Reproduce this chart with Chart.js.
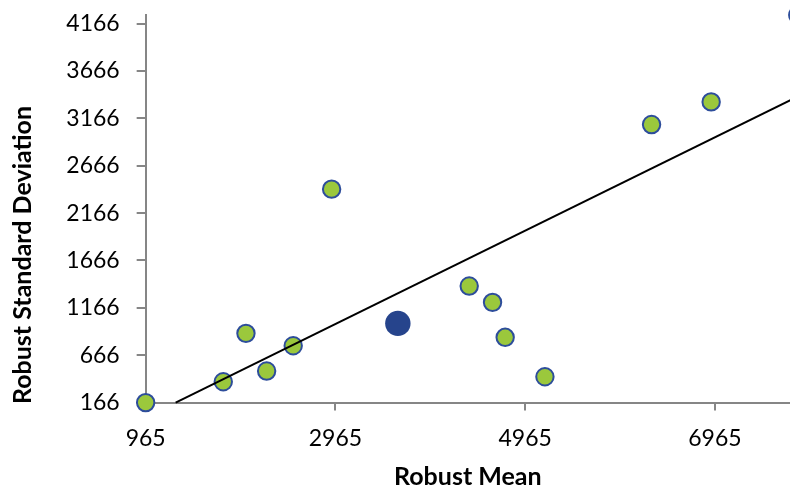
<!DOCTYPE html>
<html>
<head>
<meta charset="utf-8">
<script src="https://cdn.jsdelivr.net/npm/chart.js@4.4.1/dist/chart.umd.min.js"></script>
<style>
  html, body { margin: 0; padding: 0; background: #ffffff; overflow: hidden; }
  #wrap { width: 790px; height: 487px; position: relative; }
</style>
</head>
<body>
<div id="wrap"><canvas id="c"></canvas></div>
<script>
// ---- data ----
const robustMeans = [965, 1783, 2022, 2240, 2520, 2925, 4375, 4621, 4754, 5173, 6297, 6925, 7838];
const robustSDs   = [166, 386, 897, 499, 766, 2419, 1396, 1224, 855, 439, 3101, 3340, 4257];
const overallMeanX = [3623];
const overallMeanY = [1002];
const trendX = [1281, 7838];
const trendY = [166, 3397];
const xTickValues = [965, 2965, 4965, 6965];
const yTickValues = [166, 666, 1166, 1666, 2166, 2666, 3166, 3666, 4166];
const xTitle = 'Robust Mean';
const yTitle = 'Robust Standard Deviation';

const pts = robustMeans.map((x, i) => ({ x: x, y: robustSDs[i] }));
const meanPts = overallMeanX.map((x, i) => ({ x: x, y: overallMeanY[i] }));
const trendPts = trendX.map((x, i) => ({ x: x, y: trendY[i] }));

const axisGray = '#868686';
const tickFont = { family: 'Lato', size: 23 };
const titleFont = { family: 'Lato', size: 25, weight: 'bold' };

const yTitlePlugin = {
  id: 'yTitle',
  afterDraw(chart) {
    const ctx = chart.ctx;
    ctx.save();
    ctx.translate(23, 255);
    ctx.rotate(-Math.PI / 2);
    ctx.font = 'bold 25px Lato';
    ctx.fillStyle = '#000000';
    ctx.textAlign = 'center';
    ctx.textBaseline = 'middle';
    ctx.fillText(yTitle, 0, 0);
    ctx.restore();
  }
};

const zeroPad = (s) => { s.paddingLeft = 0; s.paddingRight = 0; s.paddingTop = 0; s.paddingBottom = 0; };

new Chart(document.getElementById('c'), {
  type: 'scatter',
  data: {
    datasets: [
      {
        type: 'line',
        label: 'Trend',
        data: trendPts,
        borderColor: '#000000',
        borderWidth: 2,
        pointRadius: 0,
        fill: false,
        clip: false,
        order: 0
      },
      {
        label: 'Mean',
        data: meanPts,
        backgroundColor: '#26448C',
        borderColor: '#26448C',
        borderWidth: 0,
        pointRadius: 12.7,
        pointHoverRadius: 12.7,
        order: 1
      },
      {
        label: 'Labs',
        data: pts,
        backgroundColor: '#9BC83C',
        borderColor: '#2D4D9B',
        borderWidth: 2,
        pointRadius: 8.7,
        pointHoverRadius: 8.7,
        clip: false,
        order: 2
      }
    ]
  },
  options: {
    responsive: true,
    maintainAspectRatio: false,
    animation: false,
    layout: { autoPadding: false, padding: { left: 49.3, right: 0, top: 15, bottom: 0 } },
    plugins: {
      legend: { display: false },
      tooltip: { enabled: false }
    },
    scales: {
      x: {
        type: 'linear',
        min: 965,
        max: 7756,
        afterBuildTicks: (axis) => { axis.ticks = xTickValues.map(v => ({ value: v })); },
        afterFit: zeroPad,
        ticks: {
          callback: (v) => String(v),
          font: tickFont,
          color: '#000000',
          padding: 14,
          maxRotation: 0,
          autoSkip: false
        },
        grid: { display: true, drawOnChartArea: false, drawTicks: true, tickLength: 8, color: axisGray, lineWidth: 2 },
        border: { display: true, color: axisGray, width: 2 },
        title: { display: true, text: xTitle, font: titleFont, color: '#000000', padding: { top: -4.2, bottom: -5 } }
      },
      y: {
        type: 'linear',
        min: 166,
        max: 4257,
        afterBuildTicks: (axis) => { axis.ticks = yTickValues.map(v => ({ value: v })); },
        afterFit: zeroPad,
        ticks: {
          callback: (v) => String(v),
          font: tickFont,
          color: '#000000',
          padding: 17,
          autoSkip: false
        },
        grid: { display: true, drawOnChartArea: false, drawTicks: true, tickLength: 9, color: axisGray, lineWidth: 2 },
        border: { display: true, color: axisGray, width: 2 }
      }
    }
  },
  plugins: [yTitlePlugin]
});
</script>
</body>
</html>
